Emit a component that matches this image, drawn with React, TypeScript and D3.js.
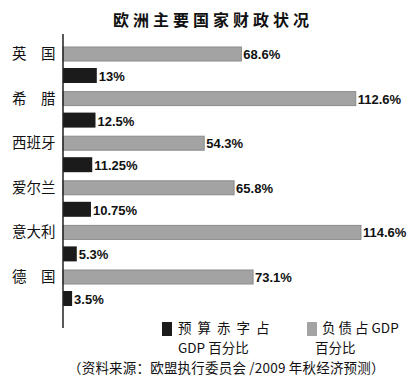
import React from "react";
import * as d3 from "d3";

const title = "欧洲主要国家财政状况";
const countries = ["英　国", "希　腊", "西班牙", "爱尔兰", "意大利", "德　国"];
const debtValues = [68.6, 112.6, 54.3, 65.8, 114.6, 73.1];
const deficitValues = [13, 12.5, 11.25, 10.75, 5.3, 3.5];
const debtLabels = ["68.6%", "112.6%", "54.3%", "65.8%", "114.6%", "73.1%"];
const deficitLabels = ["13%", "12.5%", "11.25%", "10.75%", "5.3%", "3.5%"];
const legendDeficit = ["预 算 赤 字 占", "GDP 百分比"];
const legendDebt = ["负 债 占 GDP", "百分比"];
const source = "（资料来源：欧盟执行委员会 /2009 年秋经济预测）";

const W = 410;
const H = 381;
const CJK = "'Noto Sans CJK SC', 'Noto Sans', sans-serif";
const NUM = "'Liberation Sans Narrow', 'Arial Narrow', 'Liberation Sans', sans-serif";

export default function App() {
  const x = d3.scaleLinear().domain([0, 120]).range([63, 375]);
  const y = d3.scaleBand<string>().domain(countries).range([42, 42 + 6 * 44.6]).padding(0);
  const grayColor = "#a3a3a3";
  const blackColor = "#1b1b1b";

  return (
    <svg width={W} height={H} style={{ position: "absolute", left: 0, top: 0, background: "#fff" }}>
      <rect x={0} y={0} width={W} height={H} fill="#fff" />
      <text x={213} y={26} textAnchor="middle" fontFamily={CJK} fontSize={16} fontWeight={700} letterSpacing={4} fill="#111">
        {title}
      </text>
      {countries.map((c, i) => {
        const b = y(c)!;
        const gy = b + 5;
        const by = b + 26;
        return (
          <g key={c}>
            <text x={12} y={gy + 12} fontFamily={CJK} fontSize={14.5} fill="#111">{c}</text>
            <rect x={x(0)} y={gy} width={x(debtValues[i]) - x(0)} height={14} fill={grayColor} stroke="#8a8a8a" strokeWidth={1} />
            <text x={x(debtValues[i]) + 2} y={gy + 12} fontFamily={NUM} fontWeight={700} fontSize={13} fill="#111">{debtLabels[i]}</text>
            <rect x={x(0)} y={by} width={x(deficitValues[i]) - x(0)} height={15} fill={blackColor} />
            <text x={x(deficitValues[i]) + 2} y={by + 13} fontFamily={NUM} fontWeight={700} fontSize={13} fill="#111">{deficitLabels[i]}</text>
          </g>
        );
      })}
      <line x1={63} x2={63} y1={34} y2={328} stroke="#222" strokeWidth={1.5} />
      <rect x={162} y={322} width={10} height={14} fill={blackColor} />
      <text x={178} y={333} fontFamily={CJK} fontSize={13.5} letterSpacing={1.5} fill="#111">{legendDeficit[0]}</text>
      <text x={178} y={353} fontFamily={CJK} fontSize={13.5} fill="#111">{legendDeficit[1]}</text>
      <rect x={307} y={322} width={10} height={14} fill={grayColor} />
      <text x={322} y={333} fontFamily={CJK} fontSize={13.5} fill="#111">{legendDebt[0]}</text>
      <text x={315} y={353} fontFamily={CJK} fontSize={13.5} fill="#111">{legendDebt[1]}</text>
      <text x={68} y={373} fontFamily={CJK} fontSize={13.5} letterSpacing={0.2} fill="#111">{source}</text>
    </svg>
  );
}
